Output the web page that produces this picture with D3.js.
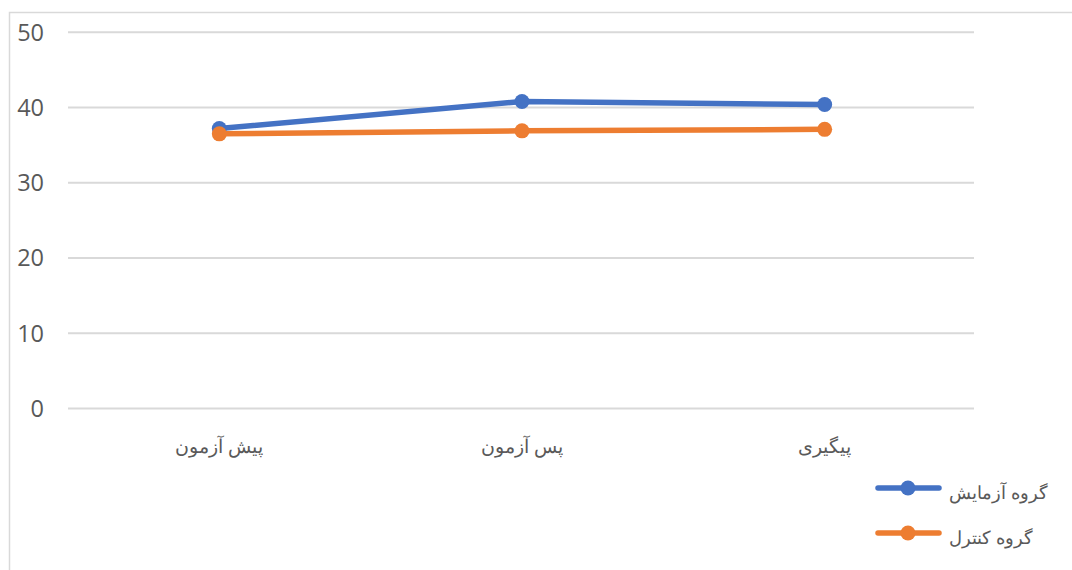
<!DOCTYPE html>
<html><head><meta charset="utf-8">
<script src="https://cdn.jsdelivr.net/npm/d3@7/dist/d3.min.js"></script>
<style>body{margin:0;background:#fff;}svg{display:block;}</style>
</head><body>
<svg id="c" width="1072" height="570"></svg>
<script>
const categories = ["پیش آزمون", "پس آزمون", "پیگیری"];
const seriesNames = ["گروه آزمایش", "گروه کنترل"];
const experimental = [37.2, 40.8, 40.4];
const control = [36.5, 36.9, 37.1];
const yTicks = [0, 10, 20, 30, 40, 50];
const colors = ["#4472C4", "#ED7D31"];

const svg = d3.select("#c");
// chart border
svg.append("path").attr("d", "M9.5,570 L9.5,12.5 L1072,12.5")
  .attr("fill", "none").attr("stroke", "#d9d9d9").attr("stroke-width", 1.5);

const x = d3.scaleBand().domain(categories).range([68, 976]);
const y = d3.scaleLinear().domain([0, 50]).range([408.5, 32.3]);

// gridlines
svg.append("g").selectAll("line").data(yTicks).join("line")
  .attr("x1", 68).attr("x2", 974)
  .attr("y1", d => y(d)).attr("y2", d => y(d))
  .attr("stroke", "#d9d9d9").attr("stroke-width", 2);

// y labels
svg.append("g").selectAll("text").data(yTicks).join("text")
  .attr("x", 44).attr("y", d => y(d)).attr("dy", "0.36em")
  .attr("text-anchor", "end").attr("fill", "#595959")
  .style("font-family", "'Open Sans', 'Noto Sans', sans-serif").style("font-size", "23.5px")
  .text(d => d);

// x labels
svg.append("g").selectAll("text").data(categories).join("text")
  .attr("x", d => x(d) + x.bandwidth() / 2).attr("y", 446).attr("dy", "0.35em")
  .attr("text-anchor", "middle").attr("fill", "#595959").attr("direction", "rtl")
  .style("font-family", "'Times New Roman', 'Liberation Serif', 'DejaVu Serif', serif").style("font-size", "19px")
  .text(d => d);

const data = [experimental, control];
const line = d3.line().x((d, i) => x(categories[i]) + x.bandwidth() / 2).y(d => y(d));
data.forEach((s, k) => {
  const g = svg.append("g");
  g.append("path").datum(s).attr("d", line).attr("fill", "none")
    .attr("stroke", colors[k]).attr("stroke-width", 5.5).attr("stroke-linejoin", "round").attr("stroke-linecap", "round");
  g.selectAll("circle").data(s).join("circle")
    .attr("cx", (d, i) => x(categories[i]) + x.bandwidth() / 2).attr("cy", d => y(d))
    .attr("r", 7.5).attr("fill", colors[k]);
});

// legend
const legY = [488, 533];
seriesNames.forEach((n, k) => {
  const g = svg.append("g");
  g.append("line").attr("x1", 878).attr("x2", 939).attr("y1", legY[k]).attr("y2", legY[k])
    .attr("stroke", colors[k]).attr("stroke-width", 5.5).attr("stroke-linecap", "round");
  g.append("circle").attr("cx", 908).attr("cy", legY[k]).attr("r", 7.5).attr("fill", colors[k]);
  g.append("text").attr("x", 949).attr("y", legY[k] + 5).attr("dy", "0.35em")
    .attr("text-anchor", "end").attr("direction", "rtl").attr("fill", "#595959")
    .style("font-family", "'Times New Roman', 'Liberation Serif', 'DejaVu Serif', serif").style("font-size", "18px")
    .text(n);
});
</script>
</body></html>
